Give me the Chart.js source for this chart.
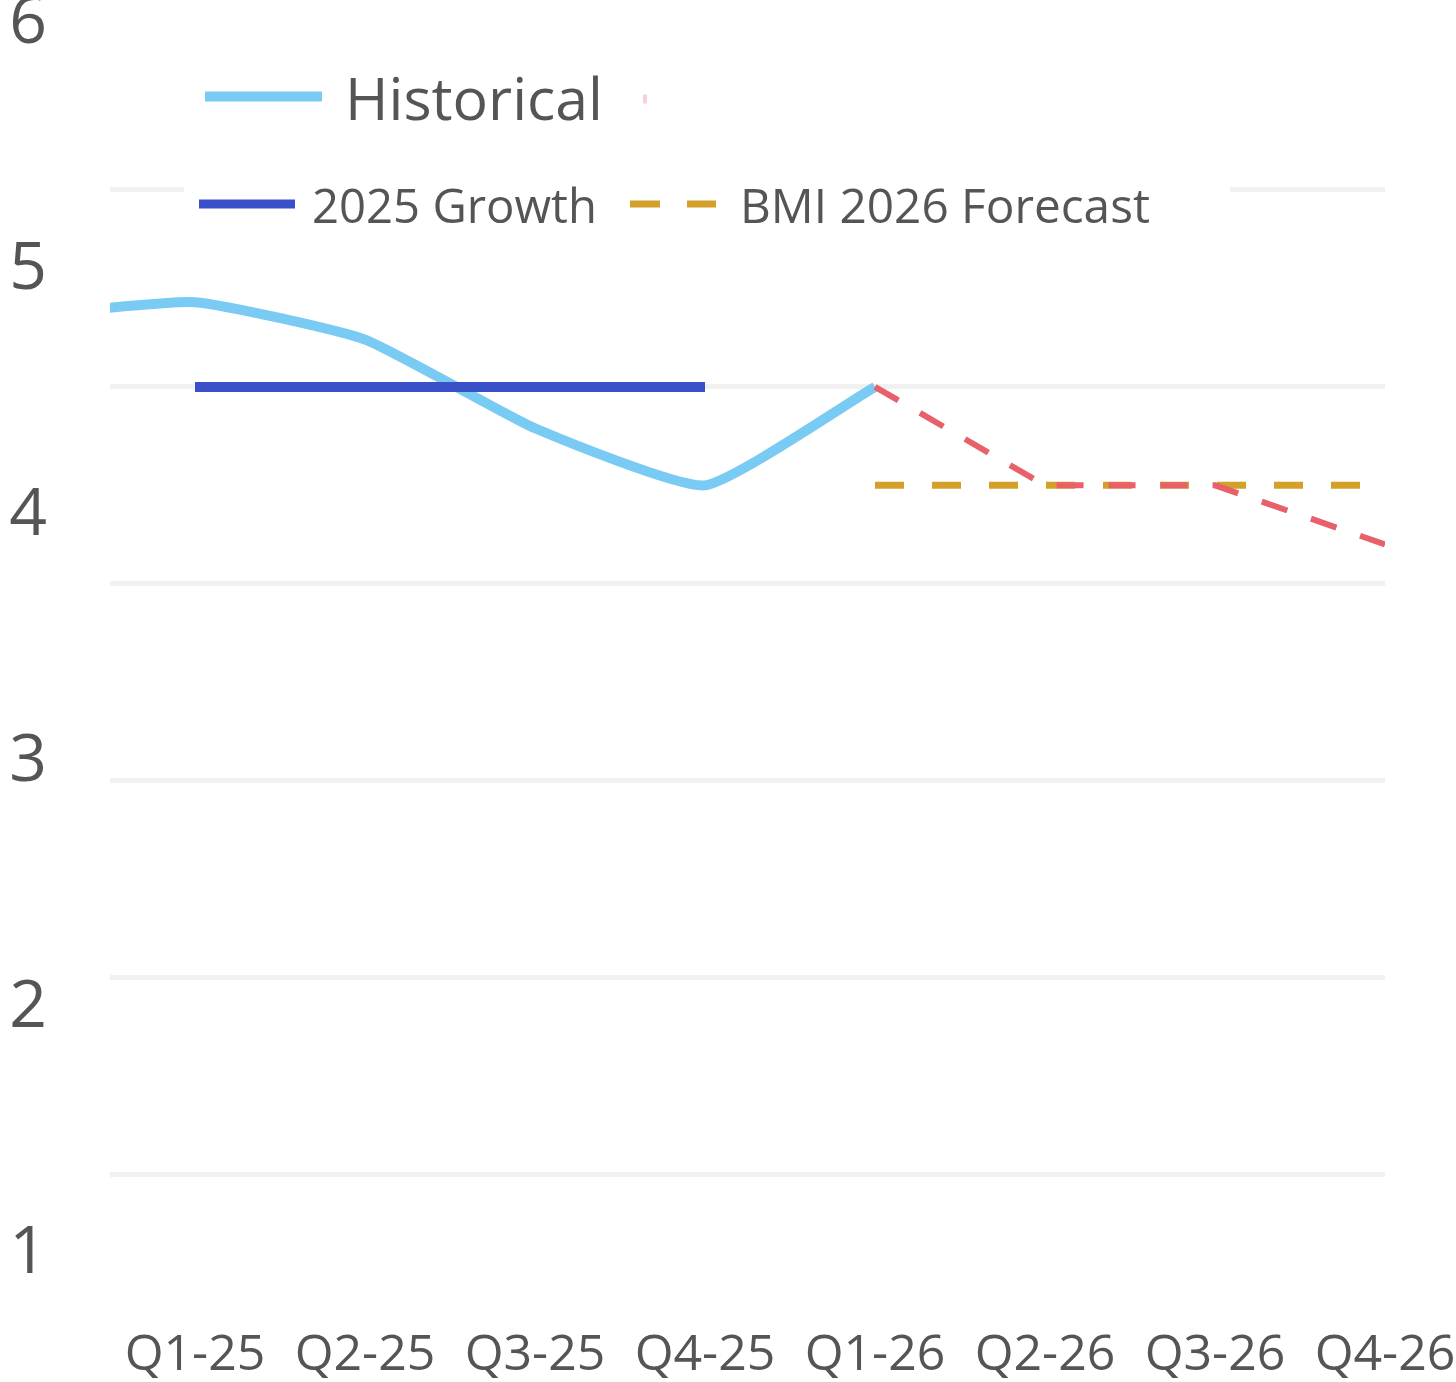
<!DOCTYPE html>
<html><head><meta charset="utf-8">
<script src="https://cdn.jsdelivr.net/npm/chart.js@4"></script>
<style>html,body{margin:0;padding:0;background:#fff;overflow:hidden}canvas{display:block}</style>
</head><body>
<canvas id="c" width="1456" height="1382"></canvas>
<script>
// ---- data ----
const categories = ['Q4-24','Q1-25','Q2-25','Q3-25','Q4-25','Q1-26','Q2-26','Q3-26','Q4-26'];
const historical = [5.36, 5.43, 5.24, 4.79, 4.5, 5.0, null, null, null];
const growth2025 = [null, 5.0, 5.0, 5.0, 5.0, null, null, null, null];
const forecast   = [null, null, null, null, null, 5.0, 4.5, 4.5, 4.2];
const bmi2026    = [null, null, null, null, null, 4.5, 4.5, 4.5, 4.5];
const yTicks = [1, 2, 3, 4, 5, 6];
const seriesLabels = ['Historical', 'Forecast', '2025 Growth', 'BMI 2026 Forecast'];

// ---- layout / style ----
const W = 1456, H = 1382;
const FONT = '"Open Sans", "Noto Sans", sans-serif';
const TEXT = '#555555';
const plotTop = 0, plotBottom = 1310;
function rangeFor(p6, p1) {
  const u = (p1 - p6) / 5;
  return { max: 6 + (p6 - plotTop) / u, min: 1 - (plotBottom - p1) / u };
}
const gridRange = rangeFor(190, 1174.5);
const labelRange = rangeFor(24, 1254);

const pts = arr => arr.map((v, i) => ({ x: i, y: v })).filter(p => p.y !== null);
const zeroPad = s => { s.paddingTop = 0; s.paddingBottom = 0; s.paddingLeft = 0; s.paddingRight = 0; };

const legendPlugin = {
  id: 'customLegend',
  afterDraw(chart) {
    const ctx = chart.ctx;
    const ds = {};
    chart.data.datasets.forEach(d => ds[d.label] = d);
    ctx.save();
    ctx.fillStyle = '#ffffff';
    ctx.fillRect(184, 40, 1046, 200);
    function line(d, x1, x2, y, w, dash) {
      ctx.beginPath();
      ctx.setLineDash(dash || []);
      ctx.strokeStyle = d.borderColor;
      ctx.lineWidth = w;
      ctx.lineCap = 'butt';
      ctx.moveTo(x1, y); ctx.lineTo(x2, y);
      ctx.stroke();
      ctx.setLineDash([]);
    }
    function text(str, x, base, targetW, approx) {
      ctx.font = approx + 'px ' + FONT;
      const m = ctx.measureText(str).width;
      const size = approx * targetW / m;
      ctx.font = size + 'px ' + FONT;
      ctx.fillStyle = TEXT;
      ctx.textBaseline = 'alphabetic';
      ctx.textAlign = 'left';
      ctx.fillText(str, x, base);
    }
    // row 1
    line(ds['Historical'], 205, 322, 96.5, 10);
    text('Historical', 345, 120, 258, 62);
    ctx.globalAlpha = 0.3;
    line(ds['Forecast'], 643, 647, 99, 9);
    ctx.globalAlpha = 1;
    // row 2
    line(ds['2025 Growth'], 199, 295, 204, 9);
    text('2025 Growth', 312, 223, 285, 48);
    line(ds['BMI 2026 Forecast'], 630, 716, 204, 7, [30, 27]);
    text('BMI 2026 Forecast', 740, 223, 410, 48);
    ctx.restore();
  }
};

new Chart(document.getElementById('c'), {
  type: 'line',
  data: {
    datasets: [
      { label: seriesLabels[2], data: pts(growth2025), borderColor: '#3a50c8', borderWidth: 10,
        borderCapStyle: 'butt', pointRadius: 0, tension: 0, xAxisID: 'x', yAxisID: 'y' },
      { label: seriesLabels[1], data: pts(forecast), borderColor: '#e8606a', borderWidth: 6,
        borderDash: [27, 25], pointRadius: 0, tension: 0, xAxisID: 'x', yAxisID: 'y' },
      { label: seriesLabels[3], data: pts(bmi2026), borderColor: '#d4a02a', borderWidth: 7,
        borderDash: [29, 28], pointRadius: 0, tension: 0, xAxisID: 'x', yAxisID: 'y' },
      { label: seriesLabels[0], data: pts(historical), borderColor: '#7acbf3', borderWidth: 10,
        pointRadius: 0, tension: 0.15, clip: 0, borderJoinStyle: 'round', xAxisID: 'x', yAxisID: 'y' }
    ]
  },
  options: {
    responsive: false,
    devicePixelRatio: 1,
    animation: false,
    events: [],
    layout: { padding: { top: 0, left: 0, right: 71, bottom: 0 } },
    plugins: { legend: { display: false }, tooltip: { enabled: false } },
    scales: {
      x: {
        type: 'linear', min: 0.5, max: 8, position: 'bottom',
        grid: { display: false, drawTicks: false }, border: { display: false },
        afterBuildTicks: s => { s.ticks = categories.map((c, i) => ({ value: i })).filter(t => t.value >= 1); },
        ticks: { autoSkip: false, maxRotation: 0, minRotation: 0, padding: 16, color: TEXT,
          font: { family: FONT, size: 50 }, callback: v => categories[v] },
        afterFit: s => { s.height = H - plotBottom; zeroPad(s); }
      },
      y: {
        position: 'left', min: gridRange.min, max: gridRange.max,
        grid: { color: '#f1f1f1', lineWidth: 5, drawTicks: false }, border: { display: false },
        afterBuildTicks: s => { s.ticks = yTicks.map(v => ({ value: v })); },
        ticks: { display: false },
        afterFit: s => { s.width = 0; zeroPad(s); }
      },
      yl: {
        position: 'left', min: labelRange.min, max: labelRange.max,
        grid: { display: false, drawTicks: false }, border: { display: false },
        afterBuildTicks: s => { s.ticks = yTicks.map(v => ({ value: v })); },
        ticks: { padding: 63, crossAlign: 'center', color: TEXT, font: { family: FONT, size: 66 },
          callback: v => String(v) },
        afterFit: s => { s.width = 110; zeroPad(s); }
      }
    }
  },
  plugins: [legendPlugin]
});
</script>
</body></html>
